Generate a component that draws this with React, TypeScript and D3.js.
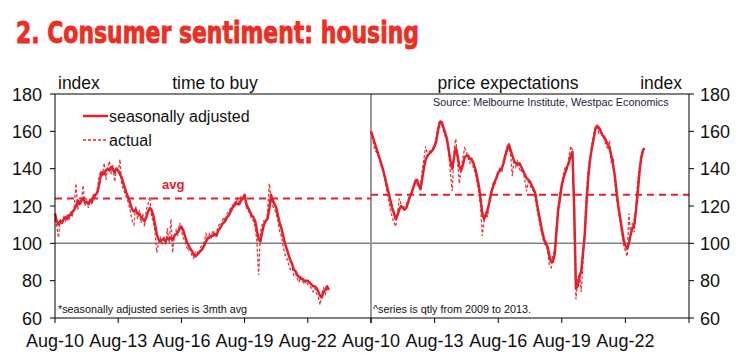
import React from 'react';
import * as d3 from 'd3';

// monthly, Aug-10 .. Aug-23
const timeToBuySa = [
  116, 112, 110, 112, 111, 113, 114, 113, 115, 115, 117, 118,
  120, 123, 121, 123, 124, 122, 122, 121, 123, 122, 125, 126,
  127, 131, 136, 138, 137, 139, 140, 139, 141, 140, 138, 140,
  139, 137, 135, 132, 129, 126, 124, 121, 118, 117, 118, 116,
  116, 114, 113, 112, 114, 117, 119, 118, 115, 110, 105, 102,
  101, 102, 102, 101, 103, 102, 103, 102, 104, 105, 106, 108,
  109, 107, 104, 101, 99, 97, 96, 94, 93, 94, 95, 96,
  97, 99, 101, 103, 103, 104, 104, 105, 104, 107, 108, 110,
  111, 112, 114, 115, 117, 119, 120, 122, 121, 121, 123, 124,
  126, 121, 119, 117, 115, 114, 112, 107, 102, 101, 106, 110,
  112, 113, 118, 126, 123, 121, 119, 115, 111, 108, 104, 100,
  97, 94, 91, 89, 86, 85, 83, 82, 81, 81, 80, 80,
  80, 79, 78, 77, 77, 76, 74, 72, 71, 74, 75, 77,
  75,
];
const timeToBuyActual = [
  113, 109, 103, 113, 110, 114, 112, 115, 113, 117, 115, 120,
  132, 118, 123, 122, 131, 120, 124, 119, 124, 121, 127, 125,
  128, 135, 139, 136, 143, 134, 141, 144, 137, 142, 133, 141,
  138, 145, 131, 129, 126, 124, 121, 117, 112, 110, 120, 113,
  118, 111, 116, 109, 118, 121, 125, 114, 112, 106, 95, 100,
  103, 100, 104, 99, 108, 100, 113, 95, 104, 107, 104, 111,
  107, 103, 101, 98, 96, 98, 93, 92, 95, 96, 94, 98,
  99, 101, 105, 102, 105, 103, 107, 104, 106, 109, 111, 110,
  114, 112, 116, 117, 119, 120, 122, 121, 124, 122, 125, 124,
  124, 119, 118, 116, 113, 112, 109, 101, 83, 106, 110, 112,
  111, 116, 132, 125, 120, 118, 116, 112, 106, 104, 98, 94,
  92, 89, 86, 87, 83, 84, 81, 79, 82, 80, 78, 80,
  78, 77, 76, 74, 76, 73, 71, 67, 73, 76, 73, 77,
  74,
];
const priceExpSa = [
  160, 157, 154, 151, 148, 145, 142, 139, 135, 131, 127, 123,
  119, 116, 113, 115, 118, 120, 119, 118, 119, 122, 125, 127,
  130, 133, 134, 131, 129, 135, 141, 145, 147, 148, 149, 150,
  152, 155, 161, 165, 165, 162, 159, 156, 150, 144, 140, 146,
  151, 147, 141, 139, 142, 146, 147, 147, 145, 145, 143, 140,
  136, 131, 124, 116, 113, 115, 118, 122, 127, 130, 133, 135,
  138, 139, 140, 143, 147, 150, 153, 150, 147, 144, 143, 142,
  143, 141, 139, 137, 135, 134, 133, 131, 129, 127, 121, 116,
  111, 106, 102, 100, 98, 93, 90, 90, 94, 106, 118, 124,
  131, 135, 138, 141, 143, 147, 149, 120, 76, 77, 82, 85,
  95, 105, 122, 136, 145, 151, 156, 161, 163, 162, 160, 158,
  157, 155, 153, 151, 147, 142, 136, 128, 120, 114, 108, 102,
  99, 97, 100, 105, 108, 110, 118, 127, 138, 146, 150, 151,
];
const priceExpActual = [
  160, 156, 150, 149, 147, 144, 141, 138, 134, 128, 124, 118,
  114, 111, 109, 116, 124, 121, 118, 120, 121, 123, 126, 128,
  130, 134, 132, 130, 131, 139, 146, 152, 147, 149, 150, 151,
  153, 157, 163, 166, 164, 160, 157, 154, 149, 137, 128, 150,
  156, 144, 132, 140, 146, 151, 149, 146, 143, 146, 140, 138,
  133, 127, 120, 104, 112, 117, 114, 124, 125, 132, 131, 136,
  137, 141, 138, 145, 148, 152, 151, 148, 136, 145, 141, 144,
  140, 138, 140, 134, 128, 133, 131, 129, 128, 124, 118, 113,
  108, 104, 100, 99, 96, 88, 87, 94, 96, 110, 120, 128,
  133, 137, 141, 140, 146, 152, 150, 110, 70, 80, 84, 74,
  90, 110, 128, 140, 147, 153, 158, 163, 162, 159, 161, 157,
  156, 152, 151, 155, 143, 146, 132, 124, 118, 112, 105, 99,
  96, 93, 116, 104, 111, 106, 120, 133, 141, 145, 149, 150,
];
const avgTimeToBuy = 124;
const avgPriceExp = 126;
const yTicks = [60, 80, 100, 120, 140, 160, 180];
const tickYearsOffset = [0, 3, 6, 9, 12, 15];

const RED = '#E3202B';
const FONT = 'Liberation Sans, Arial, sans-serif';
const start = new Date(2010, 7, 1);
const end = new Date(2025, 7, 1);

const L = 55, M = 371, R = 689, T = 94, B = 318;

const App: React.FC = () => {
  const y = d3.scaleLinear().domain([60, 180]).range([B, T]);
  const xL = d3.scaleTime().domain([start, end]).range([L, M]);
  const xR = d3.scaleTime().domain([start, end]).range([M, R]);
  const fmt = d3.timeFormat('%b-%y');
  const tickDates = tickYearsOffset.map(k => d3.timeMonth.offset(start, k * 12));

  const mkLine = (x: d3.ScaleTime<number, number>) =>
    d3.line<number>()
      .x((_, i) => x(d3.timeMonth.offset(start, i)))
      .y(d => y(d));
  const lineL = mkLine(xL);
  const lineR = mkLine(xR);

  return (
    <div style={{ position: 'absolute', left: 0, top: 0 }}>
      <svg width={745} height={362} style={{ display: 'block', background: '#fff' }}>
        <text x={16} y={43} fill="#EC2F24" stroke="#EC2F24" strokeWidth={0.9}
          fontFamily="Liberation Sans Narrow, DejaVu Sans Condensed, sans-serif"
          fontWeight="bold" fontSize={30} textLength={403} lengthAdjust="spacingAndGlyphs">
          2. Consumer sentiment: housing
        </text>

        {/* reference lines */}
        <line x1={L} x2={R} y1={y(100)} y2={y(100)} stroke="#808080" strokeWidth={1.5} />
        <line x1={M} x2={M} y1={T} y2={B} stroke="#9a9a9a" strokeWidth={2} />
        <line x1={xL(start)} x2={xL(end)} y1={y(avgTimeToBuy)} y2={y(avgTimeToBuy)}
          stroke={RED} strokeWidth={2} strokeDasharray="7,5" />
        <line x1={xR(start)} x2={xR(end)} y1={y(avgPriceExp)} y2={y(avgPriceExp)}
          stroke={RED} strokeWidth={2} strokeDasharray="7,5" />

        {/* series */}
        <path d={lineL(timeToBuyActual) || ''} fill="none" stroke={RED} strokeWidth={1.3} strokeDasharray="3,2" opacity={0.9} />
        <path d={lineL(timeToBuySa) || ''} fill="none" stroke={RED} strokeWidth={2.5} strokeLinejoin="round" />
        <path d={lineR(priceExpActual) || ''} fill="none" stroke={RED} strokeWidth={1.3} strokeDasharray="3,2" opacity={0.9} />
        <path d={lineR(priceExpSa) || ''} fill="none" stroke={RED} strokeWidth={2.5} strokeLinejoin="round" />

        {/* frame */}
        <line x1={L} x2={R} y1={T} y2={T} stroke="#000" strokeWidth={1} />
        <line x1={L} x2={R} y1={B} y2={B} stroke="#000" strokeWidth={1} />
        <line x1={L} x2={L} y1={T} y2={B} stroke="#000" strokeWidth={1} />
        <line x1={R} x2={R} y1={T} y2={B} stroke="#000" strokeWidth={1} />

        {/* y axes */}
        {yTicks.map(t => (
          <g key={t}>
            <line x1={L - 5} x2={L} y1={y(t)} y2={y(t)} stroke="#000" />
            <line x1={R} x2={R + 5} y1={y(t)} y2={y(t)} stroke="#000" />
            <text x={42} y={y(t) + 6.5} textAnchor="end" fontFamily={FONT} fontSize={18} fill="#111">{t}</text>
            <text x={700} y={y(t) + 6.5} fontFamily={FONT} fontSize={18} fill="#111">{t}</text>
          </g>
        ))}

        {/* x axes */}
        {[xL, xR].map((x, pi) => (
          <g key={pi}>
            {tickDates.map((d, i) => (
              <line key={i} x1={x(d)} x2={x(d)} y1={B} y2={B + 5} stroke="#000" />
            ))}
            {tickDates.slice(0, 5).map((d, i) => (
              <text key={'t' + i} x={x(d)} y={347} textAnchor="middle" fontFamily={FONT} fontSize={18} fill="#111">
                {fmt(d)}
              </text>
            ))}
          </g>
        ))}

        {/* titles */}
        <text x={58} y={89} fontFamily={FONT} fontSize={17.5} fill="#111">index</text>
        <text x={215} y={89} textAnchor="middle" fontFamily={FONT} fontSize={17.5} fill="#111">time to buy</text>
        <text x={508} y={89} textAnchor="middle" fontFamily={FONT} fontSize={17.5} fill="#111">price expectations</text>
        <text x={682} y={89} textAnchor="end" fontFamily={FONT} fontSize={17.5} fill="#111">index</text>

        {/* legend */}
        <line x1={83} x2={108} y1={116} y2={116} stroke={RED} strokeWidth={2.5} />
        <text x={109} y={121.5} fontFamily={FONT} fontSize={16} fill="#111">seasonally adjusted</text>
        <line x1={83} x2={108} y1={140} y2={140} stroke={RED} strokeWidth={1.3} strokeDasharray="3,2" />
        <text x={109} y={145.5} fontFamily={FONT} fontSize={16} fill="#111">actual</text>

        <text x={162} y={189} fontFamily={FONT} fontSize={13} fontWeight="bold" fill={RED}>avg</text>

        <text x={433} y={106} fontFamily={FONT} fontSize={10.8} fill="#1c1c3c">Source: Melbourne Institute, Westpac Economics</text>
        <text x={58} y={313} fontFamily={FONT} fontSize={10.8} fill="#111">*seasonally adjusted series is 3mth avg</text>
        <text x={373} y={313} fontFamily={FONT} fontSize={10.8} fill="#111">^series is qtly from 2009 to 2013.</text>
      </svg>
    </div>
  );
};

export default App;
